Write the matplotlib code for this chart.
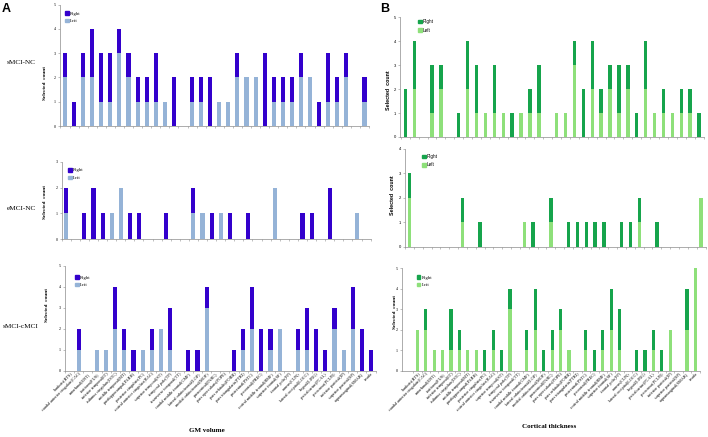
import matplotlib
matplotlib.use("Agg")
import matplotlib.pyplot as plt
from matplotlib.patches import Patch
import numpy as np

regions = ["bankssts(BTS)", "caudal anterior cingulate(CAC)", "entorhinal(ENT)", "fusiform(FUS)",
           "inferior temporal(IT)", "isthmus cingulate(ISTC)", "middle temporal(MT)",
           "parahippocampal(PARH)", "posterior cingulate(PC)", "rostral anterior cingulate(RAC)",
           "superior temporal(ST)", "temporal pole(TP)", "transverse temporal(TT)",
           "caudal middle frontal(CMF)", "lateral orbitofrontal(LOF)", "medial orbitofrontal(MOF)",
           "paracentral(PARC)", "pars opercularis(POPE)", "pars orbitalis(PORB)",
           "pars triangularis(PTRI)", "postcentral(PSTC)", "precentral(PREC)",
           "rostral middle frontal(RMF)", "superior frontal(SF)", "frontal pole(FP)", "cuneus(CUN)",
           "lateral occipital(LOCC)", "lingual(LING)", "pericalcarine(PCAL)", "precuneus(PCUN)",
           "inferior parietal(IP)", "superior parietal(SP)", "supramarginal(SMAR)", "insula"]

# GM volume (panel A)
gm_smci_nc_left = [2, 0, 2, 2, 1, 1, 3, 2, 1, 1, 1, 1, 0, 0, 1, 1, 0, 1, 1, 2, 2, 2, 0, 1, 1, 1, 2, 2, 0, 1, 1, 2, 0, 1]
gm_smci_nc_right = [1, 1, 1, 2, 2, 2, 1, 1, 1, 1, 2, 0, 2, 0, 1, 1, 2, 0, 0, 1, 0, 0, 3, 1, 1, 1, 1, 0, 1, 2, 1, 1, 0, 1]
gm_emci_nc_left = [1, 0, 0, 0, 0, 1, 2, 0, 0, 0, 0, 0, 0, 0, 1, 1, 0, 1, 0, 0, 0, 0, 0, 2, 0, 0, 0, 0, 0, 0, 0, 0, 1, 0]
gm_emci_nc_right = [1, 0, 1, 2, 1, 0, 0, 1, 1, 0, 0, 1, 0, 0, 1, 0, 1, 0, 1, 0, 1, 0, 0, 0, 0, 0, 1, 1, 0, 2, 0, 0, 0, 0]
gm_smci_cmci_left = [0, 1, 0, 1, 1, 2, 1, 0, 1, 1, 2, 1, 0, 0, 0, 3, 0, 0, 0, 1, 2, 0, 1, 2, 0, 1, 1, 0, 0, 2, 1, 2, 0, 0]
gm_smci_cmci_right = [0, 1, 0, 0, 0, 2, 1, 1, 0, 1, 0, 2, 0, 1, 1, 1, 0, 0, 1, 1, 2, 2, 1, 0, 0, 1, 2, 2, 1, 1, 0, 2, 2, 1]

# Cortical thickness (panel B)
ct_smci_nc_left = [0, 2, 0, 1, 2, 0, 0, 2, 1, 1, 1, 1, 0, 1, 1, 1, 0, 1, 1, 3, 0, 2, 1, 2, 1, 2, 0, 2, 1, 1, 1, 1, 1, 0]
ct_smci_nc_right = [2, 2, 0, 2, 1, 0, 1, 2, 2, 0, 2, 0, 1, 0, 1, 2, 0, 0, 0, 1, 2, 2, 1, 1, 2, 1, 1, 2, 0, 1, 0, 1, 1, 1]
ct_emci_nc_left = [2, 0, 0, 0, 0, 0, 1, 0, 0, 0, 0, 0, 0, 1, 0, 0, 1, 0, 0, 0, 0, 0, 0, 0, 0, 0, 1, 0, 0, 0, 0, 0, 0, 2]
ct_emci_nc_right = [1, 0, 0, 0, 0, 0, 1, 0, 1, 0, 0, 0, 0, 0, 1, 0, 1, 0, 1, 1, 1, 1, 1, 0, 1, 1, 1, 0, 1, 0, 0, 0, 0, 0]
ct_smci_cmci_left = [2, 2, 1, 1, 1, 1, 1, 1, 0, 1, 0, 3, 0, 1, 2, 0, 1, 2, 1, 0, 1, 0, 1, 2, 1, 0, 0, 0, 1, 0, 2, 0, 2, 5]
ct_smci_cmci_right = [0, 1, 0, 0, 2, 1, 0, 0, 1, 1, 1, 1, 0, 1, 2, 1, 1, 1, 0, 0, 1, 1, 1, 2, 2, 0, 1, 1, 1, 1, 0, 0, 2, 0]

W, H = 708, 437
SERIF = "Liberation Serif"
SANS = "Liberation Sans"
spine_c = "#8c8c8c"

fig = plt.figure(figsize=(W / 100, H / 100), dpi=100)


def panel(box, xlim, ymax, left, right, dark, light, width, labels, font, leg_xy, ylab_xy):
    # box = (left px, right px, top px, bottom px)
    l, r, t, b = box
    ax = fig.add_axes([l / W, 1 - b / H, (r - l) / W, (b - t) / H])
    x = np.arange(len(regions))
    ax.bar(x, left, width, color=light, linewidth=0)
    ax.bar(x, right, width, bottom=left, color=dark, linewidth=0)
    ax.set_xlim(*xlim)
    ax.set_ylim(0, ymax)
    ax.set_yticks(range(ymax + 1))
    for s in ["top", "right"]:
        ax.spines[s].set_visible(False)
    for s in ["left", "bottom"]:
        ax.spines[s].set_color(spine_c)
        ax.spines[s].set_linewidth(0.5)
    ax.tick_params(axis="y", length=1.5, width=0.4, color=spine_c, labelsize=3, pad=1.5)
    ax.set_xticks(x)
    ax.set_xticks(np.arange(-0.5, len(regions), 1), minor=True)
    ax.tick_params(axis="x", which="major", length=0, pad=1)
    ax.tick_params(axis="x", which="minor", length=1.5, width=0.4, color=spine_c)
    for lab in ax.get_yticklabels():
        lab.set_fontfamily(font)
    if labels:
        ax.set_xticklabels(regions, rotation=45, ha="right", rotation_mode="anchor",
                           fontsize=3.1, fontfamily=SERIF)
    else:
        ax.set_xticklabels([])
    handles = [Patch(color=dark, label="Right"), Patch(color=light, label="Left")]
    ax.legend(handles=handles, loc="upper left", bbox_to_anchor=(leg_xy[0] / W, 1 - leg_xy[1] / H),
              bbox_transform=fig.transFigure, frameon=False, borderpad=0,
              prop={"family": font, "size": 3.3}, handlelength=0.7, handleheight=0.7,
              handletextpad=0.3, labelspacing=0.7)
    fig.text(ylab_xy[0] / W, 1 - ylab_xy[1] / H, "Selected  count", rotation=90,
             ha="center", va="center", fontsize=3.8, fontweight="bold", fontfamily=font)
    return ax


a_dark, a_light = "#3300CC", "#95B3D7"
b_dark, b_light = "#16A44C", "#8EE07A"

panel((60, 369, 4.5, 126), (-0.55, 33.5), 5, gm_smci_nc_left, gm_smci_nc_right,
      a_dark, a_light, 0.45, False, SERIF, (63, 9), (45, 83))
panel((61.7, 370.6, 161.7, 239.3), (-0.44, 33.5), 3, gm_emci_nc_left, gm_emci_nc_right,
      a_dark, a_light, 0.45, False, SERIF, (66, 166), (45, 202))
panel((65, 375.6, 265.7, 370.7), (-0.45, 33.5), 5, gm_smci_cmci_left, gm_smci_cmci_right,
      a_dark, a_light, 0.45, True, SERIF, (73, 273), (47, 305))

panel((400, 703.5, 17.3, 137), (-0.6, 33.5), 5, ct_smci_nc_left, ct_smci_nc_right,
      b_dark, b_light, 0.38, False, SANS, (416, 17), (389, 90))
panel((405, 705.5, 149, 246.7), (-0.45, 33.5), 4, ct_emci_nc_left, ct_emci_nc_right,
      b_dark, b_light, 0.38, False, SANS, (420, 152), (393, 195))
panel((401.7, 699.7, 268, 370.7), (-1.85, 33.5), 5, ct_smci_cmci_left, ct_smci_cmci_right,
      b_dark, b_light, 0.38, True, SERIF, (415, 273), (395, 312))

# row and panel labels
fig.text(21 / W, 1 - 62 / H, "sMCI-NC", ha="center", va="center", fontsize=5.2, fontfamily=SERIF)
fig.text(21 / W, 1 - 208 / H, "eMCI-NC", ha="center", va="center", fontsize=5.2, fontfamily=SERIF)
fig.text(21 / W, 1 - 327 / H, "sMCI-cMCI", ha="center", va="center", fontsize=5.2, fontfamily=SERIF)
fig.text(207 / W, 1 - 431 / H, "GM volume", ha="center", va="center", fontsize=5,
         fontweight="bold", fontfamily=SERIF)
fig.text(549 / W, 1 - 426 / H, "Cortical thickness", ha="center", va="center", fontsize=5,
         fontweight="bold", fontfamily=SERIF)
fig.text(2 / W, 1 - 3 / H, "A", ha="left", va="top", fontsize=9, fontweight="bold", fontfamily=SANS)
fig.text(380 / W, 1 - 3 / H, "B", ha="left", va="top", fontsize=9, fontweight="bold", fontfamily=SANS)

fig.savefig("out.png", dpi=100)
